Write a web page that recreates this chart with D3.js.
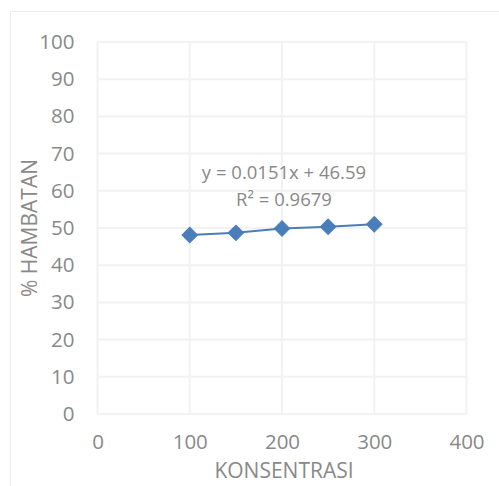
<!DOCTYPE html>
<html>
<head>
<meta charset="utf-8">
<script src="https://cdn.jsdelivr.net/npm/d3@7"></script>
<style>
  body { margin: 0; background: #fff; }
  svg text { font-family: "Open Sans", sans-serif; fill: #898989; }
</style>
</head>
<body>
<div id="graph"></div>
<script>
// data
const konsentrasi = [100, 150, 200, 250, 300];
const hambatan = [48.1, 48.7, 49.85, 50.35, 51.0];
const xTicks = [0, 100, 200, 300, 400];
const yTicks = [0, 10, 20, 30, 40, 50, 60, 70, 80, 90, 100];
const equation = ["y = 0.0151x + 46.59", "R² = 0.9679"];

const width = 499;
const height = 486;
const margin = {top: 42, right: 32.5, bottom: 72, left: 97.5};

const svg = d3.select("#graph")
    .append("svg")
        .attr("width", width)
        .attr("height", height);

// outer chart frame
svg.append("rect")
    .attr("x", 10.5).attr("y", 11.5)
    .attr("width", width + 10).attr("height", height + 10)
    .attr("fill", "none")
    .attr("stroke", "#ededed");

const x = d3.scaleLinear()
    .domain([0, 400])
    .range([margin.left, width - margin.right]);

const y = d3.scaleLinear()
    .domain([0, 100])
    .range([height - margin.bottom, margin.top]);

// gridlines
const grid = svg.append("g").attr("stroke", "#f2f2f2").attr("stroke-width", 2);
grid.selectAll("line.h")
    .data(yTicks)
    .join("line")
        .attr("class", "h")
        .attr("x1", x(0)).attr("x2", x(400))
        .attr("y1", d => y(d)).attr("y2", d => y(d));
grid.selectAll("line.v")
    .data(xTicks)
    .join("line")
        .attr("class", "v")
        .attr("x1", d => x(d)).attr("x2", d => x(d))
        .attr("y1", y(0)).attr("y2", y(100));

// axes, labels only
const yAxis = svg.append("g")
    .attr("transform", `translate(${x(0) - 23}, 0)`)
    .call(d3.axisLeft(y).tickValues(yTicks).tickSize(0).tickPadding(0));
const xAxis = svg.append("g")
    .attr("transform", `translate(0, ${y(0) + 20})`)
    .call(d3.axisBottom(x).tickValues(xTicks).tickSize(0).tickPadding(0));
[yAxis, xAxis].forEach(a => {
    a.select(".domain").remove();
    a.selectAll("text")
        .attr("font-size", 20.5)
        .attr("font-family", null)
        .attr("fill", null);
    a.attr("font-family", null).attr("font-size", null);
});
xAxis.selectAll("text").attr("dy", "0.71em");

// axis titles
svg.append("text")
    .attr("x", (x(0) + x(400)) / 2 + 2)
    .attr("y", 478)
    .attr("text-anchor", "middle")
    .attr("font-size", 21)
    .text("KONSENTRASI");

svg.append("text")
    .attr("transform", `translate(37, ${(y(0) + y(100)) / 2}) rotate(-90)`)
    .attr("text-anchor", "middle")
    .attr("font-size", 21)
    .text("% HAMBATAN");

// series line
const pts = konsentrasi.map((k, i) => [k, hambatan[i]]);
svg.append("path")
    .datum(pts)
    .attr("fill", "none")
    .attr("stroke", "#4a7ebb")
    .attr("stroke-width", 2)
    .attr("d", d3.line().x(d => x(d[0])).y(d => y(d[1])));

// diamond markers
svg.selectAll("path.marker")
    .data(pts)
    .join("path")
        .attr("class", "marker")
        .attr("d", d3.symbol(d3.symbolSquare, 120))
        .attr("transform", d => `translate(${x(d[0])}, ${y(d[1])}) rotate(45)`)
        .attr("fill", "#4a7ebb")
        .attr("stroke", "#4a7ebb")
        .attr("stroke-width", 1);

// trendline equation
svg.selectAll("text.eq")
    .data(equation)
    .join("text")
        .attr("class", "eq")
        .attr("x", 284)
        .attr("y", (d, i) => 179 + i * 27)
        .attr("text-anchor", "middle")
        .attr("font-size", 18.5)
        .text(d => d);
</script>
</body>
</html>
